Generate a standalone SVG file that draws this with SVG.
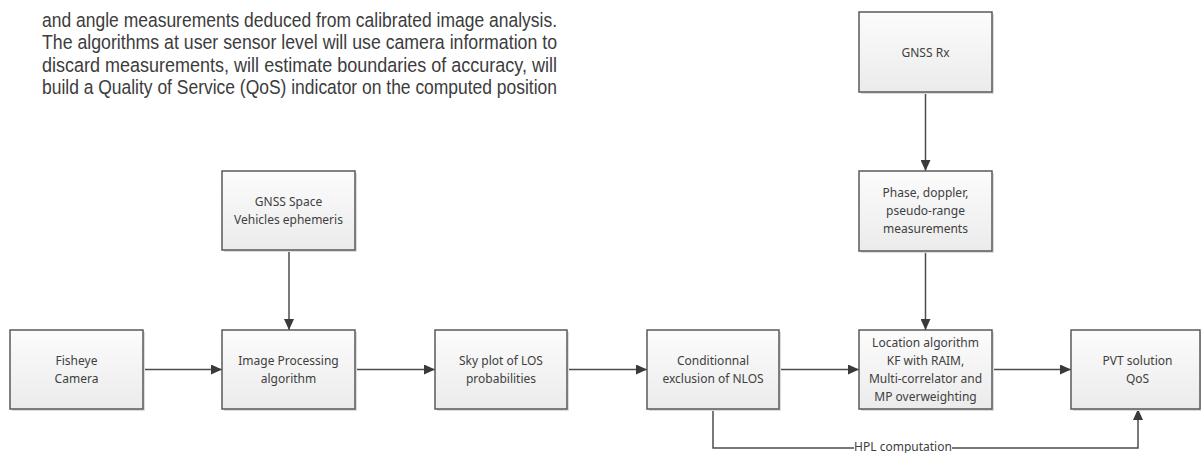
<svg xmlns="http://www.w3.org/2000/svg" width="1201" height="453" viewBox="0 0 1201 453">
<style>
.para{font-family:"Liberation Sans",Arial,sans-serif;font-size:20.5px;fill:#3c3c3c}
.box{fill:url(#g);stroke:#595959;stroke-width:1.5}
.sh{fill:#dcdcdc}
.lbl{font-family:"Noto Sans","Open Sans",sans-serif;font-size:12px;fill:#404040;text-anchor:middle}
.c{fill:none;stroke:#4d4d4d;stroke-width:1.5}
</style>
<defs>
<linearGradient id="g" x1="0" y1="0" x2="0" y2="1">
<stop offset="0" stop-color="#fcfcfc"/>
<stop offset="1" stop-color="#ebebeb"/>
</linearGradient>
<marker id="a" viewBox="0 0 11 10" refX="11" refY="5" markerWidth="11" markerHeight="10" markerUnits="userSpaceOnUse" orient="auto">
<path d="M0,0 L11,5 L0,10 z" fill="#3a3a3a"/>
</marker>
</defs>
<rect width="1201" height="453" fill="#ffffff"/>
<g id="paragraph">
<text class="para" x="42" y="26.5" textLength="515" lengthAdjust="spacingAndGlyphs">and angle measurements deduced from calibrated image analysis.</text>
<text class="para" x="42" y="49" textLength="515" lengthAdjust="spacingAndGlyphs">The algorithms at user sensor level will use camera information to</text>
<text class="para" x="42" y="71.5" textLength="515" lengthAdjust="spacingAndGlyphs">discard measurements, will estimate boundaries of accuracy, will</text>
<text class="para" x="42" y="94" textLength="515" lengthAdjust="spacingAndGlyphs">build a Quality of Service (QoS) indicator on the computed position</text>
</g>
<g id="connectors">
<line class="c" x1="143" y1="369.5" x2="222" y2="369.5" marker-end="url(#a)"/>
<line class="c" x1="355" y1="369.5" x2="435" y2="369.5" marker-end="url(#a)"/>
<line class="c" x1="567" y1="369.5" x2="647" y2="369.5" marker-end="url(#a)"/>
<line class="c" x1="779" y1="369.5" x2="859" y2="369.5" marker-end="url(#a)"/>
<line class="c" x1="992" y1="369.5" x2="1071" y2="369.5" marker-end="url(#a)"/>
<line class="c" x1="289" y1="251" x2="289" y2="330" marker-end="url(#a)"/>
<line class="c" x1="925.5" y1="92" x2="925.5" y2="171" marker-end="url(#a)"/>
<line class="c" x1="925.5" y1="251" x2="925.5" y2="330" marker-end="url(#a)"/>
<polyline class="c" points="713,409 713,448 1138,448 1138,409" marker-end="url(#a)"/>
<rect x="854" y="440" width="98" height="13" fill="#ffffff"/>
<text class="lbl" x="903" y="450.5">HPL computation</text>
</g>
<g id="fisheye">
<rect class="sh" x="12" y="332" width="133" height="79"/>
<rect class="box" x="10" y="330" width="133" height="79"/>
<text class="lbl" x="76.5" y="365">Fisheye</text>
<text class="lbl" x="76.5" y="383">Camera</text>
</g>
<g id="gnss-space">
<rect class="sh" x="224" y="173" width="133" height="79"/>
<rect class="box" x="222" y="171" width="133" height="79"/>
<text class="lbl" x="288.5" y="206">GNSS Space</text>
<text class="lbl" x="288.5" y="224">Vehicles ephemeris</text>
</g>
<g id="image-processing">
<rect class="sh" x="224" y="332" width="133" height="79"/>
<rect class="box" x="222" y="330" width="133" height="79"/>
<text class="lbl" x="288.5" y="365">Image Processing</text>
<text class="lbl" x="288.5" y="383">algorithm</text>
</g>
<g id="sky-plot">
<rect class="sh" x="437" y="332" width="132" height="79"/>
<rect class="box" x="435" y="330" width="132" height="79"/>
<text class="lbl" x="501" y="365">Sky plot of LOS</text>
<text class="lbl" x="501" y="383">probabilities</text>
</g>
<g id="conditional-exclusion">
<rect class="sh" x="649" y="332" width="132" height="79"/>
<rect class="box" x="647" y="330" width="132" height="79"/>
<text class="lbl" x="713" y="365">Conditionnal</text>
<text class="lbl" x="713" y="383">exclusion of NLOS</text>
</g>
<g id="gnss-rx">
<rect class="sh" x="861" y="14" width="133" height="80"/>
<rect class="box" x="859" y="12" width="133" height="80"/>
<text class="lbl" x="925.5" y="56.5">GNSS Rx</text>
</g>
<g id="measurements">
<rect class="sh" x="861" y="173" width="133" height="80"/>
<rect class="box" x="859" y="171" width="133" height="80"/>
<text class="lbl" x="925.5" y="197">Phase, doppler,</text>
<text class="lbl" x="925.5" y="215">pseudo-range</text>
<text class="lbl" x="925.5" y="233">measurements</text>
</g>
<g id="location-algorithm">
<rect class="sh" x="861" y="332" width="133" height="79"/>
<rect class="box" x="859" y="330" width="133" height="79"/>
<text class="lbl" x="925.5" y="347">Location algorithm</text>
<text class="lbl" x="925.5" y="365">KF with RAIM,</text>
<text class="lbl" x="925.5" y="383">Multi-correlator and</text>
<text class="lbl" x="925.5" y="401">MP overweighting</text>
</g>
<g id="pvt">
<rect class="sh" x="1073" y="332" width="129" height="79"/>
<rect class="box" x="1071" y="330" width="129" height="79"/>
<text class="lbl" x="1137.5" y="365">PVT solution</text>
<text class="lbl" x="1137.5" y="383">QoS</text>
</g>
</svg>
